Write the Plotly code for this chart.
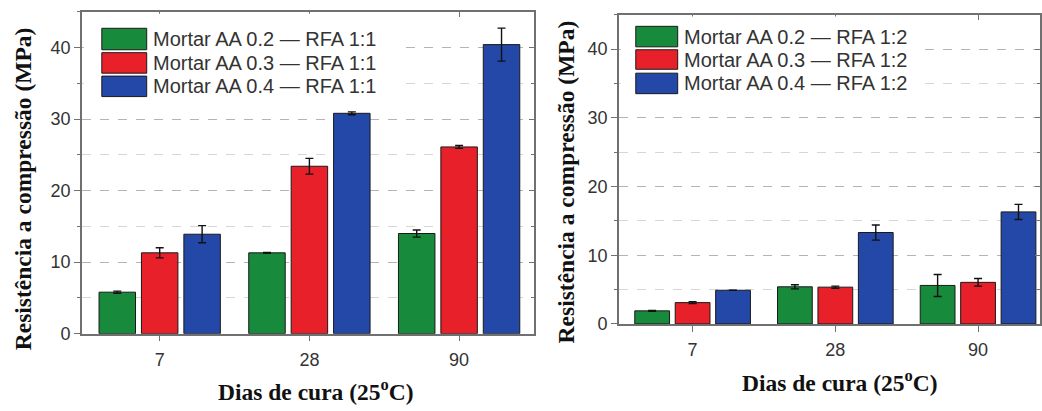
import plotly.graph_objects as go

W, H = 1042, 411

categories = ["7", "28", "90"]

names_11 = ["Mortar AA 0.2 — RFA 1:1", "Mortar AA 0.3 — RFA 1:1", "Mortar AA 0.4 — RFA 1:1"]
names_12 = ["Mortar AA 0.2 — RFA 1:2", "Mortar AA 0.3 — RFA 1:2", "Mortar AA 0.4 — RFA 1:2"]

# RFA 1:1 (left panel)
aa02_11 = [5.8, 11.3, 14.0]
aa03_11 = [11.3, 23.4, 26.1]
aa04_11 = [13.9, 30.8, 40.4]
aa02_11_err = [0.15, 0.05, 0.5]
aa03_11_err = [0.7, 1.1, 0.2]
aa04_11_err = [1.2, 0.2, 2.3]

# RFA 1:2 (right panel)
aa02_12 = [1.9, 5.4, 5.6]
aa03_12 = [3.1, 5.35, 6.05]
aa04_12 = [4.9, 13.3, 16.3]
aa02_12_err = [0.05, 0.3, 1.6]
aa03_12_err = [0.15, 0.15, 0.55]
aa04_12_err = [0.0, 1.1, 1.1]

y_ticks = [0, 10, 20, 30, 40]

colors = ["#178a3c", "#e8202a", "#2448a8"]

x_title = "<b>Dias de cura (25<sup>o</sup>C)</b>"
y_title = "<b>Resistência a compressão (MPa)</b>"

# panel boxes in pixels (left, right, top, bottom)
P = {
    1: dict(x0=82, x1=535, y0=12, y1=342, xr=[-0.52, 2.5]),
    2: dict(x0=620, x1=1042, y0=15, y1=332, xr=[-0.517, 2.434]),
}


def dom_x(p):
    return [P[p]["x0"] / W, P[p]["x1"] / W]


def dom_y(p):
    return [1 - P[p]["y1"] / H, 1 - P[p]["y0"] / H]


def fx(p, px):
    return (px - P[p]["x0"]) / (P[p]["x1"] - P[p]["x0"])


def fy(p, py):
    return (P[p]["y1"] - py) / (P[p]["y1"] - P[p]["y0"])


fig = go.Figure()

panel_data = {
    1: ([aa02_11, aa03_11, aa04_11], [aa02_11_err, aa03_11_err, aa04_11_err], names_11),
    2: ([aa02_12, aa03_12, aa04_12], [aa02_12_err, aa03_12_err, aa04_12_err], names_12),
}

for p, (vals, errs, names) in panel_data.items():
    xa = "x" if p == 1 else "x2"
    ya = "y" if p == 1 else "y2"
    for v, e, n, c in zip(vals, errs, names, colors):
        fig.add_trace(go.Bar(
            x=categories, y=v, name=n, xaxis=xa, yaxis=ya,
            marker=dict(color=c, line=dict(color="#1a1a1a", width=1)),
            error_y=dict(type="data", array=e, color="#111111", thickness=1.4, width=4, visible=True),
            showlegend=False,
        ))

tickfont = dict(family="Liberation Sans, Arial", size=18, color="#333333")
frame = "#707070"
grid_major = dict(showgrid=True, gridcolor="#b4b4b4", griddash="dash", gridwidth=1)

layout = dict(
    width=W, height=H,
    margin=dict(l=0, r=0, t=0, b=0),
    paper_bgcolor="white", plot_bgcolor="white",
    barmode="group", bargap=0.15, bargroupgap=0.14,
    showlegend=False,
)

n_cat = len(categories)
for p in (1, 2):
    s = "" if p == 1 else "2"
    o = "3" if p == 1 else "4"
    layout["xaxis" + s] = dict(
        domain=dom_x(p), anchor="y" + s, type="category", range=P[p]["xr"],
        showline=True, linecolor=frame, linewidth=1.5, mirror=True,
        ticks="outside", ticklen=6, tickcolor=frame, tickwidth=1.2,
        ticklabelstandoff=3,
        tickfont=tickfont, showgrid=False, zeroline=False,
    )
    layout["yaxis" + s] = dict(
        domain=dom_y(p), anchor="x" + s, range=[0, 45],
        tickvals=y_ticks, showline=True, linecolor=frame, linewidth=1.5, mirror=True,
        ticks="outside", ticklen=6, tickcolor=frame, tickwidth=1.2,
        tickfont=tickfont, zeroline=False, **grid_major,
        minor=dict(dtick=5, tick0=0, ticks="outside", ticklen=3, tickcolor=frame,
                   showgrid=True, gridcolor="#d6d6d6", griddash="dash", gridwidth=1),
    )
    # top ticks pointing inward
    layout["xaxis" + o] = dict(
        domain=dom_x(p), overlaying="x" + s, anchor="y" + s, side="top",
        range=P[p]["xr"], tickvals=list(range(n_cat)), showticklabels=False,
        ticks="inside", ticklen=5, tickcolor=frame, tickwidth=1.2,
        showgrid=False, zeroline=False, showline=False,
    )
    # right ticks pointing inward
    layout["yaxis" + o] = dict(
        domain=dom_y(p), overlaying="y" + s, anchor="x" + s, side="right",
        range=[0, 45], tickvals=y_ticks, showticklabels=False,
        ticks="inside", ticklen=5, tickcolor=frame, tickwidth=1.2,
        minor=dict(dtick=5, tick0=0, ticks="inside", ticklen=3, tickcolor=frame),
        showgrid=False, zeroline=False, showline=False,
    )

fig.update_layout(**layout)

# invisible traces so the overlay (tick-only) axes are drawn
fig.add_trace(go.Scatter(x=[0], y=[0], xaxis="x3", yaxis="y3", mode="markers",
                         marker=dict(opacity=0), showlegend=False, hoverinfo="skip"))
fig.add_trace(go.Scatter(x=[0], y=[0], xaxis="x4", yaxis="y4", mode="markers",
                         marker=dict(opacity=0), showlegend=False, hoverinfo="skip"))

# custom legends (large swatches as in the reference)
legend_geo = {
    1: dict(bg=(84, 400, 14, 104), sw=(102, 147), rows=[(29, 51), (54, 75), (78, 99)], tx=151),
    2: dict(bg=(622, 922, 17, 104), sw=(637, 679), rows=[(27, 48), (51, 71), (75, 96)], tx=683),
}
shapes = []
annotations = []
for p, g in legend_geo.items():
    s = "" if p == 1 else "2"
    xr, yr = "x" + s + " domain", "y" + s + " domain"
    bx0, bx1, by0, by1 = g["bg"]
    shapes.append(dict(type="rect", xref=xr, yref=yr, layer="above",
                       x0=fx(p, bx0), x1=fx(p, bx1), y0=fy(p, by1), y1=fy(p, by0),
                       fillcolor="white", line=dict(width=0)))
    names = panel_data[p][2]
    for (r0, r1), c, n in zip(g["rows"], colors, names):
        shapes.append(dict(type="rect", xref=xr, yref=yr, layer="above",
                           x0=fx(p, g["sw"][0]), x1=fx(p, g["sw"][1]),
                           y0=fy(p, r1), y1=fy(p, r0),
                           fillcolor=c, line=dict(color="#1a1a1a", width=1)))
        annotations.append(dict(xref=xr, yref=yr, x=fx(p, g["tx"]), y=fy(p, (r0 + r1) / 2),
                                text=n, showarrow=False, xanchor="left", yanchor="middle",
                                font=dict(family="Liberation Sans, Arial", size=20, color="#333333")))

title_font = dict(family="Liberation Serif, Times New Roman", size=23.5, color="#111111")
annotations += [
    dict(xref="paper", yref="paper", x=317 / W, y=1 - 400 / H, text=x_title, showarrow=False,
         xanchor="center", yanchor="middle", font=title_font),
    dict(xref="paper", yref="paper", x=842 / W, y=1 - 390 / H, text=x_title, showarrow=False,
         xanchor="center", yanchor="middle", font=title_font),
    dict(xref="paper", yref="paper", x=23 / W, y=1 - 193 / H, text=y_title, showarrow=False,
         textangle=-90, xanchor="center", yanchor="middle", font=title_font),
    dict(xref="paper", yref="paper", x=568 / W, y=1 - 186 / H, text=y_title, showarrow=False,
         textangle=-90, xanchor="center", yanchor="middle", font=title_font),
]
fig.update_layout(shapes=shapes, annotations=annotations)

fig.write_html("out.html", config={"displayModeBar": False},
               post_script="document.body.style.margin='0px';")
